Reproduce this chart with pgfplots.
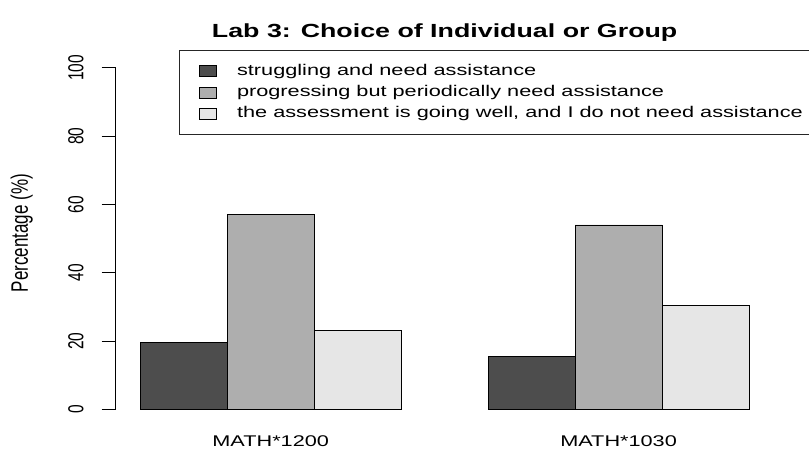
\documentclass[border=0pt]{standalone}
\usepackage{fontspec}
\setmainfont{Liberation Sans}
\usepackage{graphicx}
\usepackage{pgfplots}
\pgfplotsset{compat=1.18}

\definecolor{darkbar}{HTML}{4D4D4D}
\definecolor{midbar}{HTML}{AEAEAE}
\definecolor{lightbar}{HTML}{E6E6E6}

% the reference is stretched sideways, so text is too
\newcommand{\sx}[1]{\scalebox{1.40}[1]{#1}}
\newcommand{\sy}[1]{\scalebox{1}[1.40]{#1}}

\pgfplotsset{
  sqlegend/.style={legend image code/.code={
    \draw[##1,line width=0.6pt] (0pt,-5.5pt) rectangle (17pt,5.5pt);}},
}

\begin{document}
\fontsize{15.5pt}{18pt}\selectfont
\begin{tikzpicture}
\useasboundingbox (0,0) rectangle (809pt,450pt);
\begin{axis}[
    at={(115.9pt,40.7pt)}, anchor=south west,
    scale only axis, width=657.5pt, height=341.5pt,
    xmin=0.72, xmax=8.28, ymin=0, ymax=100,
    axis x line*=bottom, axis y line*=left,
    x axis line style={draw=none},
    y axis line style={-, line width=0.9pt},
    tick align=outside, major tick length=14.3pt,
    xtick={2.5,6.5},
    xticklabels={\sx{MATH*1200},\sx{MATH*1030}},
    x tick style={draw=none},
    xticklabel style={anchor=base, inner sep=0pt},
    xticklabel shift=23.1pt,
    ytick={0,20,40,60,80,100},
    yticklabels={\sy{0},\sy{20},\sy{40},\sy{60},\sy{80},\sy{100}},
    y tick style={black, line width=0.9pt},
    yticklabel style={rotate=90, anchor=south, inner sep=0pt},
    yticklabel shift=17.7pt,
    ylabel={\fontsize{17pt}{19pt}\selectfont\sy{Percentage (\%)}},
    ylabel style={at={(axis description cs:-0.1261,0.516)}, anchor=south, inner sep=0pt},
    title={\fontsize{19pt}{21pt}\selectfont\bfseries\scalebox{1.41}[1]{Lab 3: Choice of Individual or Group}},
    title style={at={(axis description cs:0.5,1.0706)}, anchor=base, inner sep=0pt},
    legend style={at={(axis description cs:0.0967,1.0521)}, anchor=north west,
      draw=black!85, line width=0.8pt, inner xsep=19pt, inner ysep=10pt,
      column sep=20.6pt, row sep=0pt,
      nodes={inner sep=0pt, text height=14.65pt, text depth=6.65pt}},
    legend cell align=left,
]
\addplot[ybar, bar width=1, bar shift=0, fill=darkbar, draw=black, line width=0.7pt, sqlegend]
  coordinates {(1.5,19.7) (5.5,15.5)};
\addplot[ybar, bar width=1, bar shift=0, fill=midbar, draw=black, line width=0.7pt, sqlegend]
  coordinates {(2.5,57.1) (6.5,54.0)};
\addplot[ybar, bar width=1, bar shift=0, fill=lightbar, draw=black, line width=0.7pt, sqlegend]
  coordinates {(3.5,23.2) (7.5,30.5)};
\legend{\sx{struggling and need assistance},
        \sx{progressing but periodically need assistance},
        \sx{the assessment is going well, and I do not need assistance}}
\end{axis}
\end{tikzpicture}
\end{document}
